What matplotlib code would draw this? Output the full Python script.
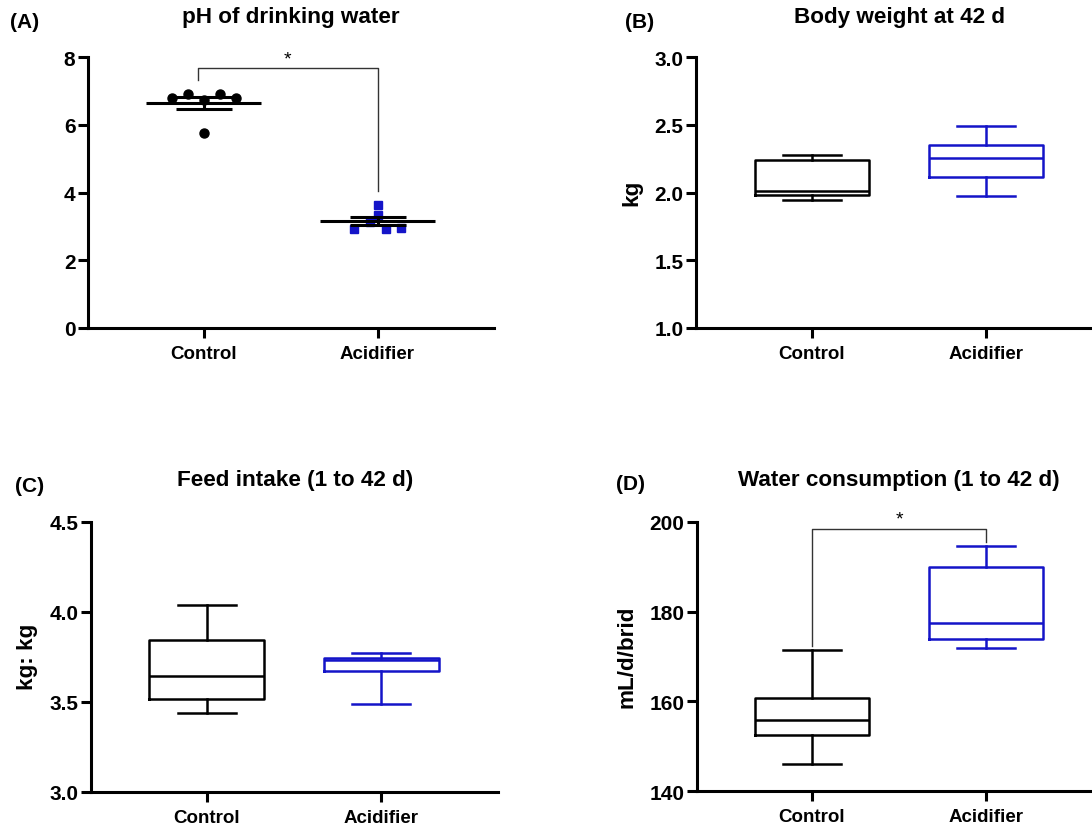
import numpy as np
import matplotlib.pyplot as plt

plt.rcParams['font.family'] = ['Liberation Sans', 'DejaVu Sans']
plt.rcParams['font.weight'] = 'bold'

W, H = 1092, 828
blue = '#1414c8'

groups = ['Control', 'Acidifier']

# (A) pH of drinking water, individual values
ph_control = [6.80, 6.90, 6.72, 6.90, 6.78, 5.77]
ph_acidifier = [3.33, 2.91, 3.13, 3.64, 2.91, 2.96]

# box stats: min, q1, median, q3, max
bw_control = [1.947, 1.979, 2.009, 2.237, 2.274]
bw_acidifier = [1.972, 2.114, 2.257, 2.348, 2.493]

fi_control = [3.438, 3.514, 3.647, 3.844, 4.040]
fi_acidifier = [3.490, 3.674, 3.735, 3.745, 3.770]

wc_control = [146.0, 152.4, 155.9, 160.7, 171.5]
wc_acidifier = [171.9, 174.0, 177.4, 189.9, 194.7]


def px_axes(l, t, r, b):
    return [l / W, 1 - b / H, (r - l) / W, (b - t) / H]


def ftext(x, y, s, size, **kw):
    fig.text(x / W, 1 - y / H, s, fontsize=size, fontweight='bold',
             ha=kw.pop('ha', 'center'), va='center', **kw)


def style(ax, ylim, yticks, fmt):
    ax.set_xlim(-0.665, 1.67)
    ax.set_ylim(*ylim)
    ax.set_yticks(yticks)
    ax.set_yticklabels([fmt.format(v) for v in yticks])
    ax.set_xticks([0, 1])
    ax.set_xticklabels(groups)
    for s in ['top', 'right']:
        ax.spines[s].set_visible(False)
    for s in ['left', 'bottom']:
        ax.spines[s].set_linewidth(2.2)
    ax.tick_params(width=2.2, length=7, labelsize=15, pad=2)
    ax.tick_params(axis='x', labelsize=13.5, pad=5)


def swarm(vals, step, row_h):
    # spread points of similar value symmetrically, in data order
    vals = np.asarray(vals)
    order = np.argsort(vals, kind='stable')
    rows, cur = [], [order[0]]
    for i in order[1:]:
        if vals[i] - vals[cur[0]] <= row_h:
            cur.append(i)
        else:
            rows.append(cur)
            cur = [i]
    rows.append(cur)
    off = np.zeros(len(vals))
    for r in rows:
        r = sorted(r)
        n = len(r)
        for k, i in enumerate(r):
            off[i] = (k - (n - 1) / 2) * step
    return off


def box(ax, pos, st, color):
    mn, q1, med, q3, mx = st
    ax.bxp([dict(whislo=mn, q1=q1, med=med, q3=q3, whishi=mx, fliers=[])],
           positions=[pos], widths=0.66, capwidths=0.33, showfliers=False,
           boxprops=dict(color=color, linewidth=1.8),
           medianprops=dict(color=color, linewidth=1.8),
           whiskerprops=dict(color=color, linewidth=1.8),
           capprops=dict(color=color, linewidth=1.8),
           manage_ticks=False)


def bracket(ax, x0, x1, y, y0, y1, ystar):
    ax.plot([x0, x0, x1, x1], [y0, y, y, y1], color='#333333', lw=1.0,
            clip_on=False)
    ax.text((x0 + x1) / 2, ystar, '*', ha='center', va='center',
            fontsize=14, fontweight='normal', clip_on=False)


fig = plt.figure(figsize=(W / 100, H / 100), dpi=100)

# (A)
axA = fig.add_axes(px_axes(88, 58, 494, 329))
for pos, vals, mk, col, ms in [(0, ph_control, 'o', 'black', 6.5),
                              (1, ph_acidifier, 's', blue, 6.0)]:
    off = swarm(vals, 0.092, 0.25)
    axA.plot(pos + off, vals, ls='none', marker=mk, color=col, ms=ms, zorder=3)
    m = np.mean(vals)
    sem = np.std(vals, ddof=1) / np.sqrt(len(vals))
    axA.hlines(m, pos - 0.33, pos + 0.33, color='black', lw=2.2, zorder=4)
    axA.errorbar(pos, m, yerr=sem, fmt='none', ecolor='black', elinewidth=2.2,
                 capsize=20, capthick=2.2, zorder=4)
style(axA, (0, 8), [0, 2, 4, 6, 8], '{:.0f}')
bracket(axA, -0.03, 1.0, 7.68, 7.31, 4.05, 7.95)

# (B)
axB = fig.add_axes(px_axes(696, 58, 1092, 329))
box(axB, 0, bw_control, 'black')
box(axB, 1, bw_acidifier, blue)
style(axB, (1.0, 3.0), [1.0, 1.5, 2.0, 2.5, 3.0], '{:.1f}')
axB.set_xlim(-0.667, 1.609)

# (C)
axC = fig.add_axes(px_axes(91, 523, 498, 793))
box(axC, 0, fi_control, 'black')
box(axC, 1, fi_acidifier, blue)
style(axC, (3.0, 4.5), [3.0, 3.5, 4.0, 4.5], '{:.1f}')

# (D)
axD = fig.add_axes(px_axes(697, 523, 1092, 792))
box(axD, 0, wc_control, 'black')
box(axD, 1, wc_acidifier, blue)
style(axD, (140, 200), [140, 160, 180, 200], '{:.0f}')
axD.set_xlim(-0.661, 1.609)
bracket(axD, 0.0, 1.0, 198.5, 172.4, 195.6, 200.6)

# titles, panel letters, y labels
ftext(291, 18, 'pH of drinking water', 16.2)
ftext(899, 17, 'Body weight at 42 d', 16.2)
ftext(295, 481, 'Feed intake (1 to 42 d)', 16.2)
ftext(899, 481, 'Water consumption (1 to 42 d)', 16.2)
ftext(10, 22, '(A)', 15, ha='left')
ftext(625, 22, '(B)', 15, ha='left')
ftext(15, 487, '(C)', 15, ha='left')
ftext(616, 485, '(D)', 15, ha='left')
ftext(632, 193, 'kg', 16.2, rotation=90)
ftext(28, 657, 'kg: kg', 16.2, rotation=90)
ftext(627, 657, 'mL/d/brid', 16.2, rotation=90)

fig.savefig('out.png', dpi=100)
